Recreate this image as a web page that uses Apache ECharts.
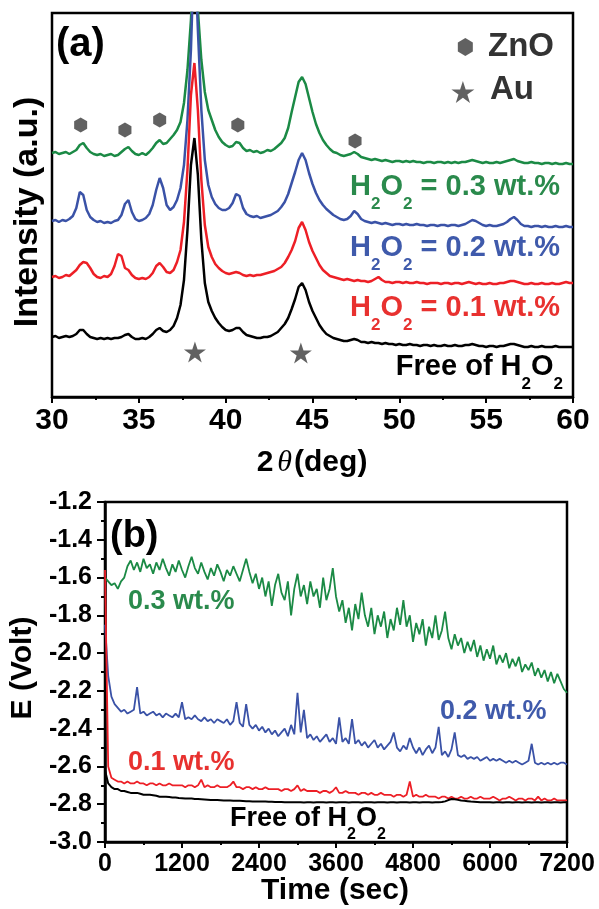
<!DOCTYPE html>
<html><head><meta charset="utf-8">
<script src="https://cdn.jsdelivr.net/npm/echarts@6.0.0/dist/echarts.min.js"></script>
<style>html,body{margin:0;padding:0;background:#fff}#c{width:599px;height:909px}</style>
</head><body><div id="c"></div>
<script>
// ---------- Panel (a): XRD ----------
const xrdTheta = [30.0,30.2,30.4,30.6,30.8,31.0,31.2,31.4,31.6,31.8,32.0,32.2,32.4,32.6,32.8,33.0,33.2,33.4,33.6,33.8,
34.0,34.2,34.4,34.6,34.8,35.0,35.2,35.4,35.6,35.8,36.0,36.2,36.4,36.6,36.8,37.0,37.2,37.4,37.6,37.8,
38.0,38.2,38.4,38.6,38.8,39.0,39.2,39.4,39.6,39.8,40.0,40.2,40.4,40.6,40.8,41.0,41.2,41.4,41.6,41.8,
42.0,42.2,42.4,42.6,42.8,43.0,43.2,43.4,43.6,43.8,44.0,44.2,44.4,44.6,44.8,45.0,45.2,45.4,45.6,45.8,
46.0,46.2,46.4,46.6,46.8,47.0,47.2,47.4,47.6,47.8,48.0,48.2,48.4,48.6,48.8,49.0,49.2,49.4,49.6,49.8,
50.0,50.2,50.4,50.6,50.8,51.0,51.2,51.4,51.6,51.8,52.0,52.2,52.4,52.6,52.8,53.0,53.2,53.4,53.6,53.8,
54.0,54.2,54.4,54.6,54.8,55.0,55.2,55.4,55.6,55.8,56.0,56.2,56.4,56.6,56.8,57.0,57.2,57.4,57.6,57.8,
58.0,58.2,58.4,58.6,58.8,59.0,59.2,59.4,59.6,59.8,60.0];
const xrd03 = [244,245,243,244,245,243,245,247,252,254,249,245,243,242,243,241,242,243,241,242,
245,248,250,246,243,242,244,242,245,249,254,257,253,254,258,262,267,275,294,327,
377,457,387,337,305,287,277,267,260,255,252,250,251,255,254,249,246,247,245,246,
244,245,247,246,248,251,254,259,269,285,300,315,320,313,299,285,273,264,257,252,
248,245,244,242,241,242,243,245,243,240,239,238,237,238,237,236,237,236,235,236,
236,235,236,235,236,235,235,234,235,235,234,235,235,234,235,234,235,234,235,235,
236,237,236,235,234,235,234,234,235,234,235,236,237,238,236,235,234,234,235,234,
234,233,234,234,233,234,233,233,234,233,233];
const xrd02 = [176,177,175,177,176,178,181,189,205,202,187,180,177,175,176,174,175,174,176,177,
182,193,197,185,178,176,177,179,183,192,207,219,209,192,187,190,197,209,232,277,
347,457,367,287,237,212,200,193,189,187,187,189,194,203,201,189,183,181,180,181,
179,180,181,182,184,186,190,195,203,214,225,237,244,237,224,213,204,197,192,188,
185,182,180,178,177,178,181,186,183,178,176,175,174,175,174,173,174,173,172,173,
173,172,173,172,172,173,172,172,171,172,172,171,172,172,171,172,172,171,172,173,
175,177,176,174,172,171,172,171,171,172,173,175,178,180,177,173,171,171,170,171,
171,170,171,170,170,171,170,170,171,170,170];
const xrd01 = [120,121,119,120,122,121,124,127,132,135,134,129,123,120,119,121,120,123,131,143,
141,129,127,122,119,118,119,118,120,124,131,134,130,125,124,127,135,147,175,227,
302,334,287,217,172,150,140,133,129,126,124,123,124,125,124,122,121,122,121,122,
122,123,124,125,126,128,130,134,140,147,156,169,175,167,155,146,139,132,127,124,
121,120,119,118,117,118,117,116,117,116,116,115,116,118,120,117,115,115,114,115,
115,114,115,114,114,115,114,114,113,114,114,114,113,114,114,113,114,114,113,114,
115,114,113,114,113,113,114,113,113,114,114,115,116,116,115,114,113,113,114,113,
113,114,113,113,114,113,113,114,115,114,114];
const xrd00 = [60,61,59,60,61,60,61,63,67,67,63,60,59,58,59,58,59,58,59,59,
60,62,63,60,58,58,59,58,60,63,67,69,66,65,67,71,79,92,117,167,
232,259,222,157,114,95,86,79,74,70,67,66,67,69,69,65,62,61,60,59,
59,60,60,61,63,65,69,73,79,88,98,110,114,107,95,86,79,72,67,63,
61,59,58,57,56,56,57,58,57,55,55,54,55,54,54,53,54,53,53,52,
53,52,52,53,52,52,51,52,52,51,52,51,51,52,51,51,52,51,51,52,
52,53,52,51,51,50,51,51,50,51,51,52,53,53,52,51,50,50,51,50,
50,51,50,50,50,51,50,50,50,50,50];
const znoTheta = [31.65, 34.2, 36.2, 40.7, 47.45];
const znoMark = [272, 267, 277, 272, 256];
const auTheta = [38.23, 44.33];
const auMark = [45, 44];
const legendHexAt = [53.8, 350];
const legendStarAt = [53.66, 305];
const xrdTickValues = [30, 35, 40, 45, 50, 55, 60];

// ---------- Panel (b): E vs time ----------
const timeSec = [0,50,100,150,200,250,300,350,400,450,500,550,600,650,700,750,800,850,900,950,
1000,1050,1100,1150,1200,1250,1300,1350,1400,1450,1500,1550,1600,1650,1700,1750,1800,1850,1900,1950,
2000,2050,2100,2150,2200,2250,2300,2350,2400,2450,2500,2550,2600,2650,2700,2750,2800,2850,2900,2950,
3000,3050,3100,3150,3200,3250,3300,3350,3400,3450,3500,3550,3600,3650,3700,3750,3800,3850,3900,3950,
4000,4050,4100,4150,4200,4250,4300,4350,4400,4450,4500,4550,4600,4650,4700,4750,4800,4850,4900,4950,
5000,5050,5100,5150,5200,5250,5300,5350,5400,5450,5500,5550,5600,5650,5700,5750,5800,5850,5900,5950,
6000,6050,6100,6150,6200,6250,6300,6350,6400,6450,6500,6550,6600,6650,6700,6750,6800,6850,6900,6950,
7000,7050,7100,7150,7200];
const e03 = [-1.60,-1.62,-1.64,-1.63,-1.66,-1.62,-1.60,-1.54,-1.51,-1.56,
-1.52,-1.57,-1.50,-1.55,-1.53,-1.58,-1.52,-1.56,-1.50,-1.55,
-1.59,-1.53,-1.57,-1.51,-1.56,-1.60,-1.54,-1.49,-1.55,-1.58,
-1.52,-1.57,-1.61,-1.55,-1.59,-1.53,-1.57,-1.62,-1.56,-1.59,
-1.54,-1.58,-1.62,-1.56,-1.50,-1.57,-1.63,-1.58,-1.66,-1.60,
-1.70,-1.62,-1.75,-1.64,-1.58,-1.68,-1.72,-1.62,-1.80,-1.66,
-1.58,-1.70,-1.64,-1.74,-1.62,-1.70,-1.66,-1.76,-1.60,-1.72,
-1.66,-1.55,-1.70,-1.78,-1.72,-1.84,-1.76,-1.88,-1.74,-1.82,
-1.68,-1.80,-1.86,-1.76,-1.90,-1.80,-1.86,-1.78,-1.92,-1.82,
-1.88,-1.76,-1.85,-1.72,-1.86,-1.80,-1.94,-1.84,-1.90,-1.82,
-1.96,-1.86,-1.92,-1.80,-1.93,-1.88,-1.78,-1.92,-1.98,-1.90,
-1.96,-1.92,-2.00,-1.94,-1.99,-1.93,-2.02,-1.96,-2.04,-1.98,
-2.03,-1.96,-2.06,-2.01,-2.05,-2.00,-2.08,-2.03,-2.07,-2.02,
-2.10,-2.06,-2.09,-2.05,-2.12,-2.08,-2.13,-2.09,-2.15,-2.10,
-2.16,-2.11,-2.15,-2.19,-2.21];
const e02 = [-1.85,-2.12,-2.23,-2.27,-2.29,-2.31,-2.30,-2.32,-2.31,-2.30,
-2.18,-2.32,-2.31,-2.33,-2.32,-2.31,-2.33,-2.32,-2.34,-2.32,
-2.33,-2.34,-2.32,-2.34,-2.26,-2.35,-2.34,-2.35,-2.33,-2.35,
-2.36,-2.34,-2.36,-2.35,-2.37,-2.35,-2.36,-2.37,-2.35,-2.38,
-2.36,-2.26,-2.37,-2.39,-2.27,-2.38,-2.40,-2.38,-2.41,-2.39,
-2.42,-2.40,-2.43,-2.41,-2.44,-2.42,-2.40,-2.44,-2.38,-2.43,
-2.21,-2.42,-2.30,-2.45,-2.43,-2.46,-2.44,-2.47,-2.45,-2.43,
-2.47,-2.45,-2.48,-2.34,-2.47,-2.45,-2.48,-2.35,-2.48,-2.46,
-2.49,-2.47,-2.50,-2.48,-2.46,-2.50,-2.48,-2.51,-2.49,-2.47,
-2.42,-2.50,-2.52,-2.49,-2.51,-2.45,-2.50,-2.53,-2.50,-2.54,
-2.51,-2.49,-2.53,-2.50,-2.39,-2.54,-2.52,-2.55,-2.51,-2.42,
-2.54,-2.55,-2.54,-2.56,-2.55,-2.56,-2.55,-2.57,-2.56,-2.55,
-2.57,-2.56,-2.57,-2.56,-2.57,-2.58,-2.57,-2.58,-2.57,-2.58,
-2.59,-2.58,-2.57,-2.48,-2.58,-2.59,-2.58,-2.59,-2.58,-2.59,
-2.58,-2.59,-2.58,-2.58,-2.59];
const e01 = [-1.56,-2.60,-2.66,-2.67,-2.68,-2.68,-2.69,-2.68,-2.69,-2.69,
-2.68,-2.69,-2.69,-2.70,-2.69,-2.69,-2.70,-2.69,-2.70,-2.70,
-2.69,-2.70,-2.70,-2.70,-2.70,-2.71,-2.70,-2.70,-2.71,-2.70,
-2.67,-2.71,-2.70,-2.71,-2.71,-2.70,-2.71,-2.71,-2.71,-2.70,
-2.68,-2.71,-2.71,-2.72,-2.71,-2.71,-2.72,-2.71,-2.72,-2.72,
-2.71,-2.72,-2.72,-2.72,-2.72,-2.73,-2.72,-2.72,-2.73,-2.72,
-2.70,-2.73,-2.72,-2.73,-2.73,-2.73,-2.73,-2.74,-2.73,-2.73,
-2.74,-2.73,-2.71,-2.74,-2.74,-2.73,-2.74,-2.74,-2.74,-2.75,
-2.74,-2.74,-2.75,-2.74,-2.75,-2.75,-2.74,-2.75,-2.75,-2.75,
-2.76,-2.75,-2.75,-2.76,-2.75,-2.68,-2.76,-2.75,-2.76,-2.76,
-2.75,-2.76,-2.76,-2.76,-2.77,-2.76,-2.76,-2.77,-2.76,-2.77,
-2.77,-2.76,-2.77,-2.77,-2.76,-2.77,-2.77,-2.76,-2.77,-2.77,
-2.77,-2.76,-2.77,-2.78,-2.77,-2.77,-2.76,-2.77,-2.78,-2.77,
-2.77,-2.78,-2.77,-2.77,-2.78,-2.76,-2.78,-2.77,-2.78,-2.78,
-2.77,-2.78,-2.78,-2.78,-2.78];
const e00 = [-2.62,-2.69,-2.71,-2.72,-2.72,-2.73,-2.73,-2.735,-2.74,-2.74,
-2.74,-2.745,-2.75,-2.75,-2.75,-2.752,-2.755,-2.76,-2.76,-2.76,
-2.762,-2.764,-2.765,-2.767,-2.768,-2.77,-2.77,-2.77,-2.772,-2.773,
-2.774,-2.775,-2.776,-2.777,-2.777,-2.778,-2.779,-2.78,-2.78,-2.78,
-2.781,-2.782,-2.782,-2.783,-2.784,-2.784,-2.785,-2.785,-2.786,-2.786,
-2.786,-2.787,-2.787,-2.788,-2.788,-2.788,-2.789,-2.789,-2.789,-2.79,
-2.79,-2.79,-2.791,-2.79,-2.79,-2.791,-2.79,-2.79,-2.79,-2.791,
-2.79,-2.79,-2.791,-2.79,-2.79,-2.79,-2.791,-2.79,-2.79,-2.79,
-2.791,-2.79,-2.79,-2.79,-2.791,-2.79,-2.79,-2.79,-2.791,-2.79,
-2.79,-2.791,-2.79,-2.79,-2.79,-2.791,-2.79,-2.79,-2.791,-2.79,
-2.79,-2.79,-2.791,-2.79,-2.79,-2.788,-2.785,-2.778,-2.772,-2.774,
-2.777,-2.78,-2.782,-2.784,-2.786,-2.787,-2.788,-2.789,-2.79,-2.79,
-2.79,-2.791,-2.79,-2.79,-2.791,-2.79,-2.79,-2.791,-2.79,-2.79,
-2.791,-2.79,-2.79,-2.791,-2.79,-2.79,-2.791,-2.79,-2.79,-2.791,
-2.79,-2.79,-2.791,-2.79,-2.79];

// ---------- styling ----------
const FONT = "'Liberation Sans', Arial, Helvetica, sans-serif";
const GREEN = '#1b8a45', BLUE = '#3a52a7', RED = '#ed1f26', BLACK = '#000';
const GREEN_T = '#2a8a4c', BLUE_T = '#3f5aab', RED_T = '#e8312f';
const MARK = '#3a3a3a';
const HEX = 'path://M50,0 L93.3,25 L93.3,75 L50,100 L6.7,75 L6.7,25 Z';
const STAR = 'path://M50,0 L61.8,35.3 L98.9,35.3 L68.8,57.1 L80.2,92.7 L50,70.8 L19.8,92.7 L31.2,57.1 L1.1,35.3 L38.2,35.3 Z';

function zip(xs, ys) { return xs.map((x, i) => [x, ys[i]]); }

function subRich(fs, sfs, pad, color) {
  return {
    n: { fontSize: fs, fontWeight: 'bold', fontFamily: FONT, fill: color, lineHeight: fs + 3, verticalAlign: 'top' },
    s: { fontSize: sfs, fontWeight: 'bold', fontFamily: FONT, fill: color, lineHeight: sfs, verticalAlign: 'top', padding: [pad, 0, 0, 0] }
  };
}
function subText(x, y, str, fs, sfs, pad, color, align) {
  return { type: 'text', x: x, y: y, z: 100,
    style: { text: str, rich: subRich(fs, sfs, pad, color), align: align || 'right', verticalAlign: 'top' } };
}
function plainText(x, y, str, fs, color, align, rot) {
  return { type: 'text', x: x, y: y, z: 100, rotation: rot || 0,
    style: { text: str, fill: color, font: 'bold ' + fs + 'px ' + FONT, align: align || 'left', verticalAlign: 'middle' } };
}

const chart = echarts.init(document.getElementById('c'), null, { renderer: 'canvas' });

const axisLabelA = { fontSize: 30, fontWeight: 'bold', fontFamily: FONT, color: '#000', margin: 9 };
const axisLabelB = { fontSize: 25, fontWeight: 'bold', fontFamily: FONT, color: '#000' };

const option = {
  animation: false,
  backgroundColor: '#fff',
  grid: [
    { left: 52, top: 13, width: 521, height: 384, show: true, borderColor: '#000', borderWidth: 2.5, containLabel: false },
    { left: 105, top: 502, width: 462, height: 340, show: true, borderColor: '#000', borderWidth: 2.5, containLabel: false }
  ],
  xAxis: [
    { gridIndex: 0, type: 'value', min: 30, max: 60, interval: 5,
      axisLine: { show: true, onZero: false, lineStyle: { color: '#000', width: 2.5 } },
      axisTick: { show: true, inside: false, length: 6, lineStyle: { color: '#000', width: 2 } },
      minorTick: { show: true, splitNumber: 2, length: 3, lineStyle: { color: '#000', width: 2 } },
      axisLabel: Object.assign({}, axisLabelA, { customValues: xrdTickValues }),
      splitLine: { show: false } },
    { gridIndex: 1, type: 'value', min: 0, max: 7200, interval: 1200,
      axisLine: { show: true, onZero: false, lineStyle: { color: '#000', width: 2.5 } },
      axisTick: { show: true, inside: false, length: 6, lineStyle: { color: '#000', width: 2 } },
      minorTick: { show: true, splitNumber: 2, length: 3, lineStyle: { color: '#000', width: 2 } },
      axisLabel: Object.assign({}, axisLabelB, { margin: 10, formatter: v => String(Math.round(v)) }),
      splitLine: { show: false } }
  ],
  yAxis: [
    { gridIndex: 0, type: 'value', min: 0, max: 384, show: false },
    { gridIndex: 1, type: 'value', min: -3.0, max: -1.2, interval: 0.2,
      axisLine: { show: true, onZero: false, lineStyle: { color: '#000', width: 2.5 } },
      axisTick: { show: true, inside: false, length: 8, lineStyle: { color: '#000', width: 2 } },
      minorTick: { show: true, splitNumber: 2, length: 4, lineStyle: { color: '#000', width: 2 } },
      axisLabel: Object.assign({}, axisLabelB, { margin: 13, formatter: v => v.toFixed(1) }),
      splitLine: { show: false } }
  ],
  series: [
    { type: 'line', xAxisIndex: 0, yAxisIndex: 0, data: zip(xrdTheta, xrd03), showSymbol: false, clip: true,
      lineStyle: { color: GREEN, width: 2.5 }, z: 2 },
    { type: 'line', xAxisIndex: 0, yAxisIndex: 0, data: zip(xrdTheta, xrd02), showSymbol: false, clip: true,
      lineStyle: { color: BLUE, width: 2.5 }, z: 3 },
    { type: 'line', xAxisIndex: 0, yAxisIndex: 0, data: zip(xrdTheta, xrd01), showSymbol: false, clip: true,
      lineStyle: { color: RED, width: 2.5 }, z: 4 },
    { type: 'line', xAxisIndex: 0, yAxisIndex: 0, data: zip(xrdTheta, xrd00), showSymbol: false, clip: true,
      lineStyle: { color: BLACK, width: 2.5 }, z: 5 },
    { type: 'scatter', xAxisIndex: 0, yAxisIndex: 0, data: zip(znoTheta, znoMark), symbol: HEX, symbolSize: [13, 15],
      itemStyle: { color: MARK }, z: 6 },
    { type: 'scatter', xAxisIndex: 0, yAxisIndex: 0, data: zip(auTheta, auMark), symbol: STAR, symbolSize: [22, 21],
      itemStyle: { color: MARK }, z: 6 },
    { type: 'scatter', xAxisIndex: 0, yAxisIndex: 0, data: [legendHexAt], symbol: HEX, symbolSize: [15, 18],
      itemStyle: { color: MARK }, z: 6 },
    { type: 'scatter', xAxisIndex: 0, yAxisIndex: 0, data: [legendStarAt], symbol: STAR, symbolSize: [23, 22],
      itemStyle: { color: MARK }, z: 6 },

    { type: 'line', xAxisIndex: 1, yAxisIndex: 1, data: zip(timeSec, e03), showSymbol: false, clip: true,
      lineStyle: { color: GREEN, width: 1.8 }, z: 2 },
    { type: 'line', xAxisIndex: 1, yAxisIndex: 1, data: zip(timeSec, e02), showSymbol: false, clip: true,
      lineStyle: { color: BLUE, width: 1.8 }, z: 3 },
    { type: 'line', xAxisIndex: 1, yAxisIndex: 1, data: zip(timeSec, e01), showSymbol: false, clip: true,
      lineStyle: { color: RED, width: 1.8 }, z: 4 },
    { type: 'line', xAxisIndex: 1, yAxisIndex: 1, data: zip(timeSec, e00), showSymbol: false, clip: true,
      lineStyle: { color: BLACK, width: 2 }, z: 5 }
  ],
  graphic: [
    plainText(56, 45, '(a)', 40, '#000', 'left'),
    plainText(488, 47, 'ZnO', 33, '#333', 'left'),
    plainText(490, 90, 'Au', 33, '#333', 'left'),
    subText(560, 172, '{n|H}{s|2}{n|O}{s|2}{n| = 0.3 wt.%}', 29, 17, 24, GREEN_T),
    subText(560, 233, '{n|H}{s|2}{n|O}{s|2}{n| = 0.2 wt.%}', 29, 17, 24, BLUE_T),
    subText(560, 293, '{n|H}{s|2}{n|O}{s|2}{n| = 0.1 wt.%}', 29, 17, 24, RED_T),
    subText(563, 352, '{n|Free of H}{s|2}{n|O}{s|2}', 29, 17, 24, '#000'),
    { type: 'text', x: 312, y: 463, z: 100,
      style: { text: '{b|2}{t|θ}{b|(deg)}', align: 'center', verticalAlign: 'middle',
        rich: { b: { fontSize: 30, fontWeight: 'bold', fontFamily: FONT, fill: '#000' },
                t: { fontSize: 30, fontStyle: 'italic', fontWeight: 'normal', fontFamily: "'Liberation Serif', 'DejaVu Serif', serif", fill: '#000', padding: [0, 2, 0, 4] } } } },
    plainText(28, 212, 'Intensity (a.u.)', 34, '#000', 'center', Math.PI / 2),

    plainText(110, 537, '(b)', 38, '#000', 'left'),
    plainText(128, 602, '0.3 wt.%', 27, GREEN_T, 'left'),
    plainText(440, 712, '0.2 wt.%', 27, BLUE_T, 'left'),
    plainText(128, 763, '0.1 wt.%', 27, RED_T, 'left'),
    subText(230, 805, '{n|Free of H}{s|2}{n|O}{s|2}', 27, 16, 22, '#000', 'left'),
    plainText(335, 891, 'Time (sec)', 30, '#000', 'center'),
    plainText(23, 668, 'E (Volt)', 30, '#000', 'center', Math.PI / 2)
  ]
};
chart.setOption(option);
</script>
</body></html>
